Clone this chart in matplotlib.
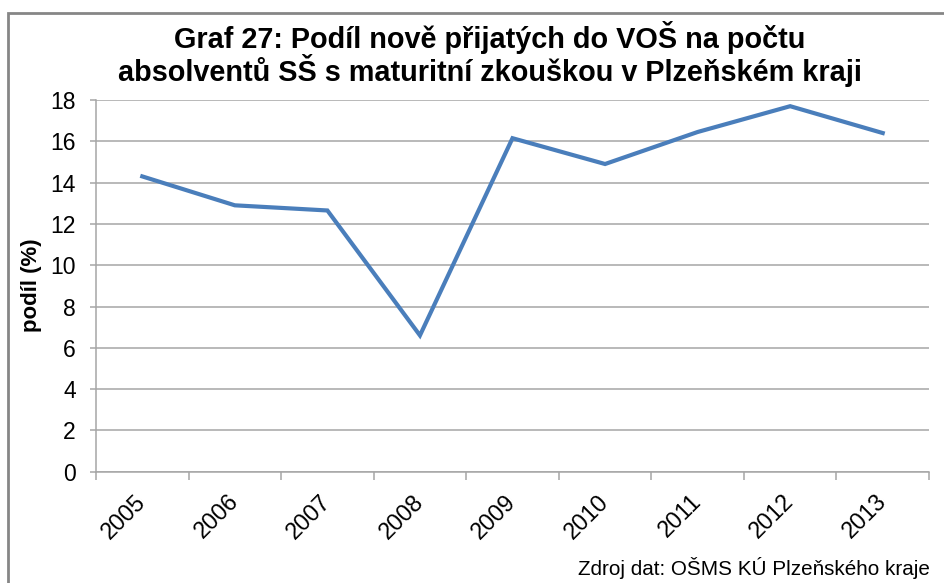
import matplotlib
matplotlib.use("Agg")
import matplotlib.pyplot as plt
from matplotlib.patches import Rectangle
import numpy as np

plt.rcParams['font.family'] = ['Liberation Sans', 'DejaVu Sans']

# Podíl nově přijatých do VOŠ (%)
years = ['2005', '2006', '2007', '2008', '2009', '2010', '2011', '2012', '2013']
share = [14.3, 12.9, 12.65, 6.6, 16.15, 14.9, 16.45, 17.7, 16.4]

BLUE = '#4A7EBB'
GRID = '#A6A6A6'
FRAME = '#868686'

W, H = 944, 583
fig = plt.figure(figsize=(W / 100, H / 100), dpi=100)
fig.patch.set_facecolor('white')

# outer chart frame (left and top edges visible)
fig.patches.append(Rectangle((8 / W, -0.1), 1.2, 1.1 - 13 / H,
                             transform=fig.transFigure, fill=False,
                             edgecolor=FRAME, lw=2))

ax = fig.add_axes([96 / W, 1 - 471.7 / H, (929 - 96) / W, (471.7 - 100) / H])
x = np.arange(len(years))
ax.plot(x, share, color=BLUE, lw=3, solid_joinstyle='miter', zorder=3)

ax.set_xlim(-0.5, len(years) - 0.5)
ax.set_ylim(0, 18)
ax.set_yticks(np.arange(0, 19, 2))
ax.yaxis.grid(True, color=GRID, lw=1.1)
ax.set_axisbelow(True)

ax.set_xticks(x)
ax.set_xticklabels(years, rotation=45, ha='right', va='center',
                   rotation_mode='anchor')
ax.set_xticks(np.arange(-0.5, len(years)), minor=True)
ax.tick_params(axis='x', which='major', length=0, pad=19, labelsize=16.8)
ax.tick_params(axis='x', which='minor', length=5.5, width=1.1, color=GRID)
ax.tick_params(axis='y', length=4.5, width=1.1, color=GRID, pad=10,
               labelsize=16.5)

for side in ('top', 'right'):
    ax.spines[side].set_visible(False)
for side in ('left', 'bottom'):
    ax.spines[side].set_color(GRID)
    ax.spines[side].set_linewidth(1.1)

fig.text(490 / W, 1 - 48 / H, 'Graf 27: Podíl nově přijatých do VOŠ na počtu',
         ha='center', va='baseline', fontsize=20.8, fontweight='bold')
fig.text(490 / W, 1 - 81 / H,
         'absolventů SŠ s maturitní zkouškou v Plzeňském kraji',
         ha='center', va='baseline', fontsize=20.8, fontweight='bold')

fig.text(31 / W, 1 - 285 / H, 'podíl (%)', rotation=90, ha='center',
         va='center', fontsize=16, fontweight='bold')

fig.text(930 / W, 1 - 575 / H, 'Zdroj dat: OŠMS KÚ Plzeňského kraje',
         ha='right', va='baseline', fontsize=14.9)

fig.savefig('out.png', dpi=100, facecolor='white')
